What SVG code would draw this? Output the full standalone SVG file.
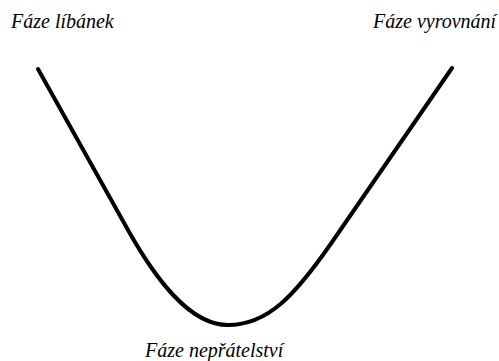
<svg xmlns="http://www.w3.org/2000/svg" width="499" height="361" viewBox="0 0 499 361">
<style>
.lbl{font-family:'Liberation Serif','DejaVu Serif',serif;font-style:italic;font-size:20px;fill:#000}
.curve{fill:none;stroke:#000;stroke-width:4;stroke-linecap:round;stroke-linejoin:round}
</style>
<rect width="499" height="361" fill="#fff"/>
<g id="connectors">
<path class="curve" d="M38,69 L128,230 C156,280 190,325 228,325 C268,325 295,295 330,245 L452,68"/>
</g>
<g id="node-libanek"><text class="lbl" x="11" y="28">Fáze líbánek</text></g>
<g id="node-vyrovnani"><text class="lbl" x="373" y="28">Fáze vyrovnání</text></g>
<g id="node-nepratelstvi"><text class="lbl" x="145" y="357">Fáze nepřátelství</text></g>
</svg>
